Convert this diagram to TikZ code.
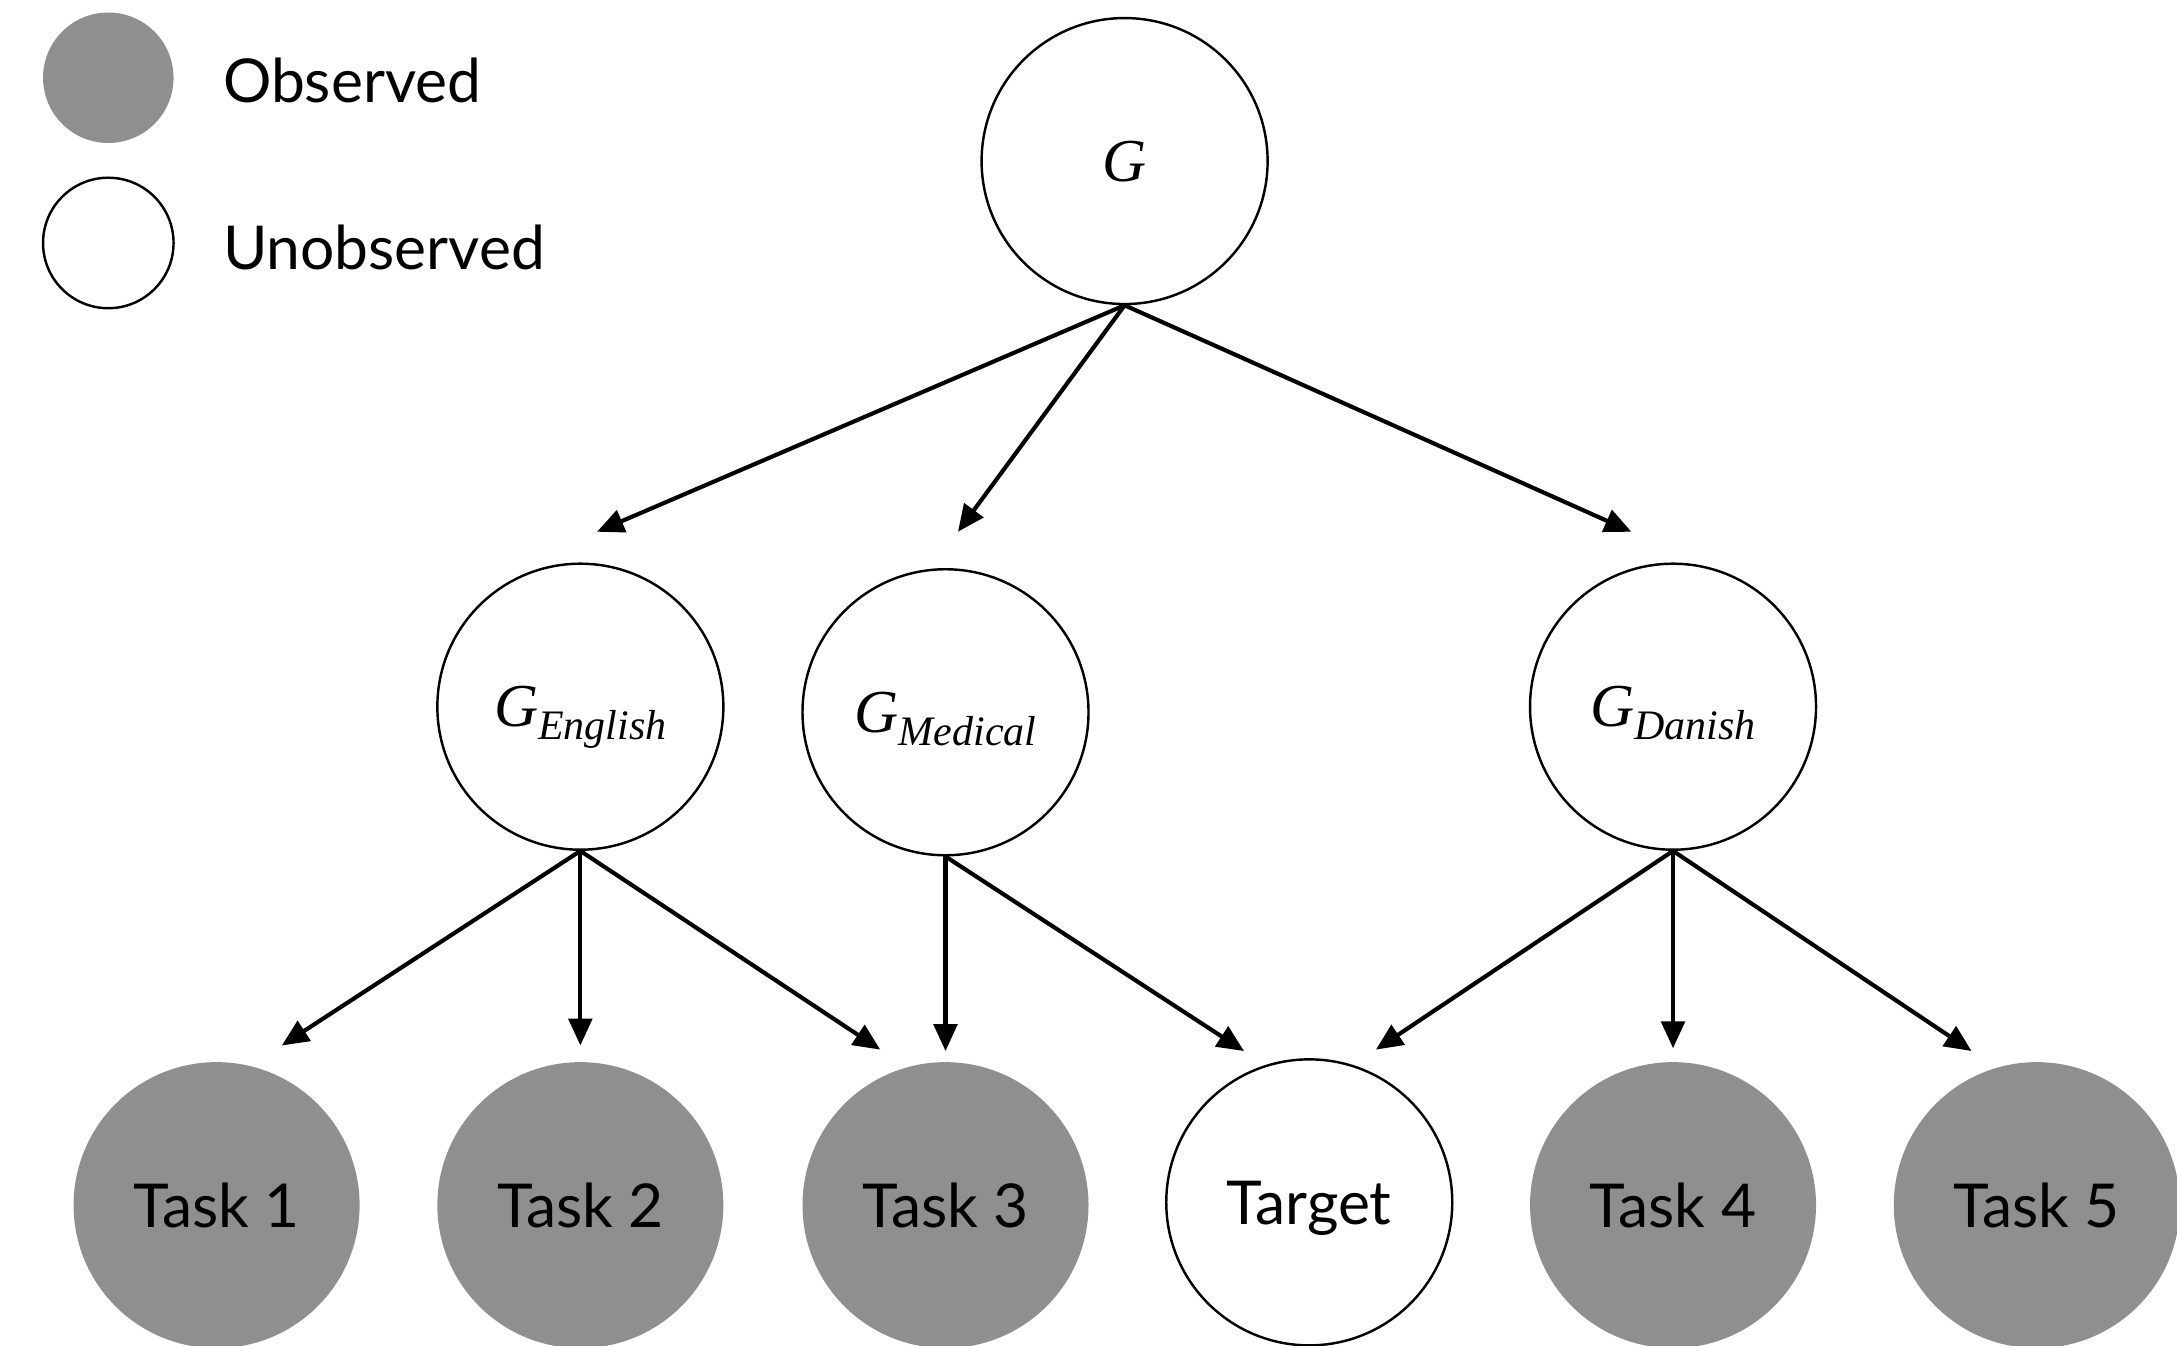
\documentclass[tikz,border=0pt]{standalone}
\usepackage{fontspec}
\setmainfont{Lato}
\newfontfamily\gfont{Liberation Serif}
\usepackage{xcolor}
\usepackage{tikz}
\usetikzlibrary{arrows.meta, positioning}

\definecolor{obsgray}{RGB}{143,143,143}
\newcommand{\gsub}[1]{{\gfont\itshape\fontsize{12.5}{14}\selectfont G\raisebox{-2.6pt}{\fontsize{8.6}{10}\selectfont #1}}}

\begin{document}
\begin{tikzpicture}[
    latent/.style={circle, draw, line width=0.5pt, fill=white, minimum size=2.06cm, inner sep=0pt, text depth=0pt},
    obs/.style={circle, fill=obsgray, minimum size=2.06cm, inner sep=0pt, text depth=0pt, font=\fontsize{12.4}{15}\selectfont},
    keyobs/.style={circle, fill=obsgray, minimum size=0.94cm, inner sep=0pt},
    keylat/.style={circle, draw, line width=0.5pt, minimum size=0.94cm, inner sep=0pt},
    keytxt/.style={anchor=west, inner sep=0pt, font=\fontsize{12.4}{15}\selectfont},
    arrow/.style={-{Triangle[length=5.5pt, width=4.8pt]}, line width=0.85pt}
]
\useasboundingbox (0,0) rectangle (15.68,9.69);

%% ── Legend ───────────────────────────────────────────────────────────
\node[keyobs] (keyo) at (0.78, 9.13) {};
\node[keylat] (keyu) at (0.78, 7.94) {};
\node[keytxt] (keyotxt) at (1.60, 9.11) {Observed};
\node[keytxt] (keyutxt) at (1.60, 7.91) {Unobserved};

%% ── Hierarchy ────────────────────────────────────────────────────────
\node[latent] (g)    at ( 8.10, 8.53) {\gsub{}};
\node[latent] (gen)  at ( 4.18, 4.60) {\gsub{English}};
\node[latent] (gmed) at ( 6.81, 4.56) {\gsub{Medical}};
\node[latent] (gdan) at (12.05, 4.60) {\gsub{Danish}};

%% ── Tasks ────────────────────────────────────────────────────────────
\node[obs]    (task1)  at ( 1.56, 1.01) {Task 1};
\node[obs]    (task2)  at ( 4.18, 1.01) {Task 2};
\node[obs]    (task3)  at ( 6.81, 1.01) {Task 3};
\node[latent, font=\fontsize{12.4}{15}\selectfont] (target) at ( 9.43, 1.03) {Target};
\node[obs]    (task4)  at (12.05, 1.01) {Task 4};
\node[obs]    (task5)  at (14.67, 1.01) {Task 5};

%% ── Arrow tips (they stop short of the circles) ──────────────────────
\coordinate (tipen)   at ( 4.30, 5.86);
\coordinate (tipmed)  at ( 6.90, 5.86);
\coordinate (tipdan)  at (11.75, 5.86);
\coordinate (tip1)    at ( 2.03, 2.16);
\coordinate (tip2)    at ( 4.18, 2.16);
\coordinate (tip3a)   at ( 6.34, 2.13);
\coordinate (tip3b)   at ( 6.81, 2.12);
\coordinate (tiptga)  at ( 8.96, 2.12);
\coordinate (tiptgb)  at ( 9.91, 2.13);
\coordinate (tip4)    at (12.05, 2.14);
\coordinate (tip5)    at (14.20, 2.12);

%% ── Arrows ───────────────────────────────────────────────────────────
\draw[arrow] (g.south) -- (tipen);
\draw[arrow] (g.south) -- (tipmed);
\draw[arrow] (g.south) -- (tipdan);

\draw[arrow] (gen.south) -- (tip1);
\draw[arrow] (gen.south) -- (tip2);
\draw[arrow] (gen.south) -- (tip3a);

\draw[arrow] (gmed.south) -- (tip3b);
\draw[arrow] (gmed.south) -- (tiptga);

\draw[arrow] (gdan.south) -- (tiptgb);
\draw[arrow] (gdan.south) -- (tip4);
\draw[arrow] (gdan.south) -- (tip5);

\end{tikzpicture}
\end{document}
